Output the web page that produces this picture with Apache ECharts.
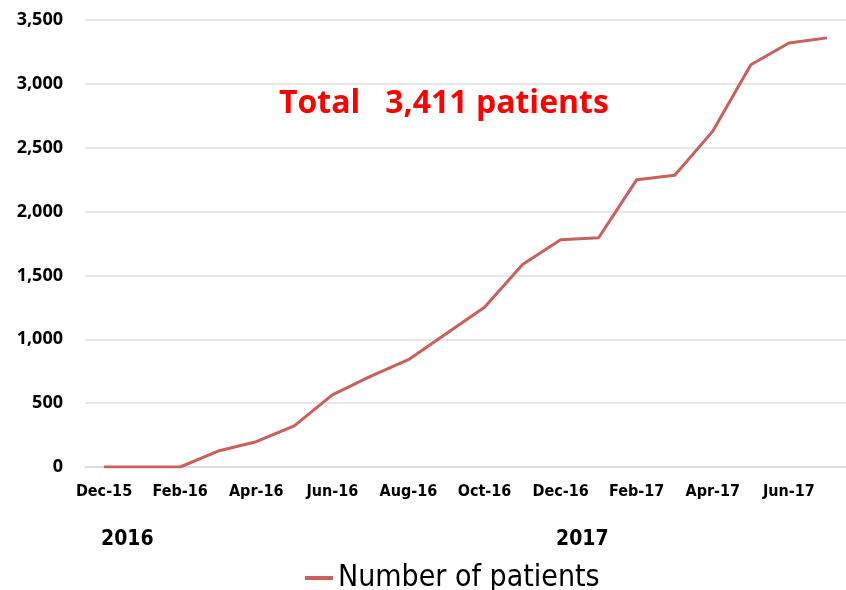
<!DOCTYPE html>
<html>
<head>
<meta charset="utf-8">
<script src="https://cdn.jsdelivr.net/npm/echarts@6/dist/echarts.min.js"></script>
<style>
  html, body { margin: 0; padding: 0; background: #fff; }
  #main { width: 846px; height: 590px; }
</style>
</head>
<body>
<div id="main"></div>
<script>
var months = ["Dec-15", "Jan-16", "Feb-16", "Mar-16", "Apr-16", "May-16", "Jun-16", "Jul-16",
  "Aug-16", "Sep-16", "Oct-16", "Nov-16", "Dec-16", "Jan-17", "Feb-17", "Mar-17",
  "Apr-17", "May-17", "Jun-17", "Jul-17"];
var patients = [0, 0, 0, 125, 198, 322, 565, 710, 840, 1045, 1250, 1585, 1780, 1795,
  2250, 2285, 2630, 3150, 3320, 3360];
var yearLabels = ["2016", "2017"];
var totalText = "Total   3,411 patients";

var myChart = echarts.init(document.getElementById("main"));
var option = {
  backgroundColor: "#ffffff",
  animation: false,
  title: {
    text: totalText,
    left: 274,
    top: 83,
    textStyle: {
      color: "#ff0000",
      fontSize: 32,
      fontWeight: "bold",
      fontFamily: "Open Sans"
    }
  },
  legend: {
    data: ["Number of patients"],
    bottom: -8,
    left: 300,
    icon: "rect",
    itemWidth: 28,
    itemHeight: 4,
    itemGap: 8,
    textStyle: {
      fontSize: 30,
      color: "#000",
      fontFamily: "DejaVu Sans Condensed"
    }
  },
  grid: {
    left: 85,
    right: 0,
    top: 20,
    bottom: 123,
    containLabel: false
  },
  xAxis: {
    type: "category",
    data: months,
    boundaryGap: true,
    axisLine: { lineStyle: { color: "#d9d9d9", width: 1.5 } },
    axisTick: {
      interval: 1,
      length: 6,
      lineStyle: { color: "#d9d9d9", width: 1.5 }
    },
    axisLabel: {
      interval: 1,
      margin: 17,
      color: "#000",
      fontSize: 16,
      fontWeight: "bold",
      fontFamily: "DejaVu Sans Condensed"
    }
  },
  yAxis: {
    type: "value",
    min: 0,
    max: 3500,
    interval: 500,
    axisLine: { show: false },
    axisTick: { show: false },
    axisLabel: {
      margin: 22,
      color: "#000",
      fontSize: 18,
      fontWeight: "bold",
      fontFamily: "Open Sans",
      formatter: function (v) { return v.toLocaleString("en-US"); }
    },
    splitLine: { lineStyle: { color: "#e0e0e0", width: 1.5 } }
  },
  graphic: [
    {
      type: "text",
      left: 101,
      top: 529,
      style: { text: yearLabels[0], fontSize: 21, fontWeight: "bold", fontFamily: "DejaVu Sans Condensed", fill: "#000" }
    },
    {
      type: "text",
      left: 556,
      top: 529,
      style: { text: yearLabels[1], fontSize: 21, fontWeight: "bold", fontFamily: "DejaVu Sans Condensed", fill: "#000" }
    }
  ],
  series: [
    {
      name: "Number of patients",
      type: "line",
      data: patients,
      symbol: "none",
      smooth: false,
      lineStyle: { color: "#c9605c", width: 3 },
      itemStyle: { color: "#c9605c" }
    }
  ]
};
myChart.setOption(option);
</script>
</body>
</html>
